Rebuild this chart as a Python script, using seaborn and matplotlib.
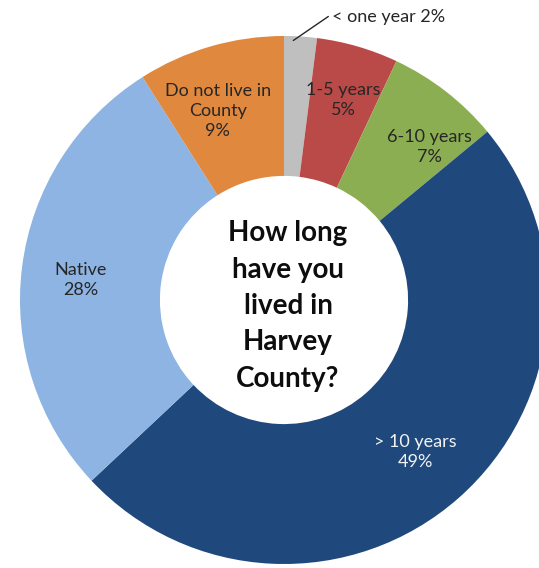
import matplotlib
matplotlib.use("Agg")
import matplotlib.pyplot as plt
import seaborn as sns
import numpy as np

categories = ["< one year", "1-5 years", "6-10 years", "> 10 years", "Native", "Do not live in County"]
values = [2, 5, 7, 49, 28, 9]
label_texts = ["< one year 2%", "1-5 years\n5%", "6-10 years\n7%", "> 10 years\n49%",
               "Native\n28%", "Do not live in\nCounty\n9%"]
center_title = "How long\nhave you\nlived in\nHarvey\nCounty?"

palette = ["#BFBFBF", "#B94A48", "#8CAE52", "#1F497D", "#8DB4E2", "#E0883E"]
label_colors = ["#262626", "#262626", "#262626", "#F2F2F2", "#262626", "#262626"]
# pixel nudges (right, up) applied to ring-midpoint label positions
nudges = [(0, 0), (5, 14), (27, 0), (3, -6), (-11, -4), (-12, 3)]

sns.set_theme(style="white")
plt.rcParams["font.family"] = ["Lato", "DejaVu Sans"]

W, H = 539, 568
R_PX = 264.0
CX, CY = 284.0, 300.0

fig = plt.figure(figsize=(W / 100, H / 100), dpi=100)
ax = fig.add_axes([0, 0, 1, 1])
ring = 0.53
wedges, _ = ax.pie(values, colors=sns.color_palette(palette), startangle=90,
                   counterclock=False, radius=1,
                   wedgeprops=dict(width=ring, edgecolor="none"))
ax.set_aspect("auto")
ax.set_xlim(-CX / R_PX, (W - CX) / R_PX)
ax.set_ylim(-(H - CY) / R_PX, CY / R_PX)
ax.axis("off")

rmid = 1 - ring / 2
for i, w in enumerate(wedges):
    th = np.deg2rad((w.theta1 + w.theta2) / 2)
    if i == 0:
        x0 = np.cos(th) * 0.985 - 7 / R_PX
        y0 = np.sin(th) * 0.985
        x1, y1 = x0 + 35 / R_PX, y0 + 24 / R_PX
        ax.plot([x0, x1], [y0, y1], color="#262626", lw=1)
        ax.text(x1 + 4 / R_PX, y1 - 1 / R_PX, label_texts[i], ha="left",
                va="center", fontsize=13, color=label_colors[i])
        continue
    dx, dy = nudges[i]
    x = rmid * np.cos(th) + dx / R_PX
    y = rmid * np.sin(th) + dy / R_PX
    ax.text(x, y, label_texts[i], ha="center", va="center", fontsize=13,
            color=label_colors[i], linespacing=1.3)

ax.text(4 / R_PX, -6 / R_PX, center_title, ha="center", va="center",
        fontsize=20, fontweight="bold", color="#0D0D0D", linespacing=1.49)

fig.savefig("out.png", dpi=100)
